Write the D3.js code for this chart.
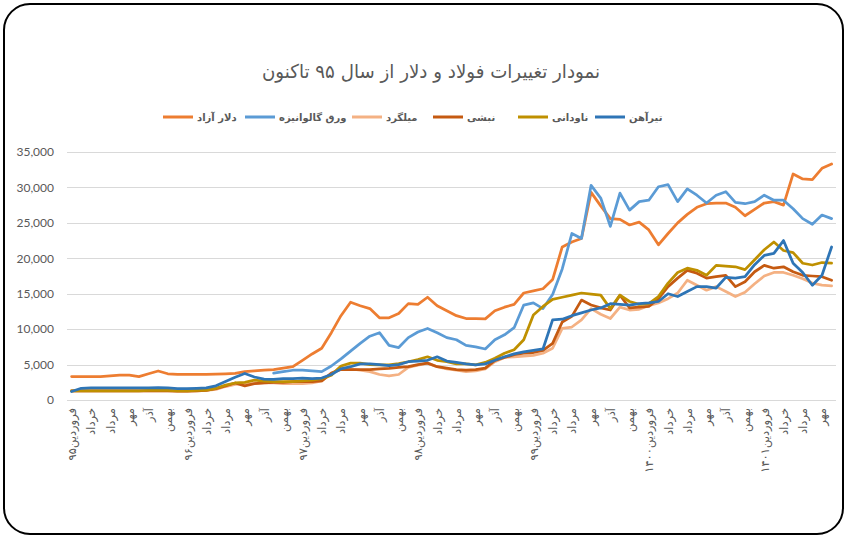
<!DOCTYPE html>
<html>
<head>
<meta charset="utf-8">
<script src="https://cdn.jsdelivr.net/npm/d3@7/dist/d3.min.js"></script>
<style>
  html, body { margin: 0; padding: 0; background: #ffffff; }
  svg { display: block; }
</style>
</head>
<body>
<svg id="chart" width="847" height="538"></svg>
<script>
// ---------------- DATA ----------------
const title = "نمودار تغییرات فولاد و دلار از سال ۹۵ تاکنون";
const monthNames = ["فروردین","اردیبهشت","خرداد","تیر","مرداد","شهریور","مهر","آبان","آذر","دی","بهمن","اسفند"];
const years = ["۹۵","۹۶","۹۷","۹۸","۹۹","۱۴۰۰","۱۴۰۱"];
const monthCount = 80; // فروردین ۹۵ تا آبان ۱۴۰۱
const categories = [];
for (let k = 0; k < monthCount; k++) {
  const m = k % 12, yr = Math.floor(k / 12);
  categories.push(m === 0 ? monthNames[m] + years[yr] : monthNames[m]);
}
const yTicks = [0, 5000, 10000, 15000, 20000, 25000, 30000, 35000];

const seriesNames = ["دلار آزاد", "ورق گالوانیزه", "میلگرد", "نبشی", "ناودانی", "تیرآهن"];

const dollar = [
  3300,3300,3300,3300,3400,3500,3500,3300,3700,4100,
  3700,3600,3600,3600,3600,3650,3700,3750,4000,4100,
  4200,4300,4500,4700,5600,6500,7300,9500,11900,13800,
  13300,12900,11600,11600,12200,13600,13500,14500,13300,12600,
  11900,11500,11500,11450,12600,13100,13500,15100,15400,15700,
  17000,21600,22300,22800,29300,27400,25600,25500,24700,25100,
  24000,21900,23500,25000,26200,27200,27700,27800,27800,27200,
  26000,26900,27800,28000,27500,31900,31200,31100,32700,33300
];
const galvanized = [
  null,null,null,null,null,null,null,null,null,null,
  null,null,null,null,null,null,null,null,null,null,
  null,3800,4000,4200,4200,4100,4000,4800,5800,6900,
  8000,9000,9500,7700,7400,8800,9600,10100,9500,8800,
  8500,7700,7500,7200,8500,9200,10200,13400,13700,12900,
  14900,18500,23500,22800,30300,28500,24500,29200,26800,28000,
  28200,30100,30400,28000,29800,28900,27800,28900,29400,27900,
  27700,28000,28900,28200,28200,27000,25600,24800,26100,25600
];
const rebar = [
  1300,1300,1300,1300,1300,1300,1300,1300,1300,1300,
  1300,1250,1250,1300,1350,1500,1900,2200,2300,2300,
  2400,2400,2300,2300,2300,2400,2700,3700,4600,4400,
  4200,4000,3600,3400,3600,4600,4900,5200,4700,4400,
  4200,4000,4100,4400,5400,6000,6100,6200,6300,6600,
  7300,10100,10300,11300,12900,12100,11500,13100,12700,12800,
  13300,13700,14300,15100,16900,16200,15500,16000,15300,14600,
  15200,16400,17500,18000,18000,17600,17100,16500,16200,16100
];
const angle = [
  1300,1300,1300,1300,1300,1300,1300,1300,1300,1300,
  1300,1250,1250,1300,1350,1600,2000,2400,2000,2300,
  2400,2500,2500,2600,2600,2600,2700,3800,4300,4300,
  4300,4300,4400,4450,4600,4700,5000,5200,4700,4500,
  4300,4200,4300,4500,5600,6000,6400,6600,6700,7000,
  8000,11000,11800,14100,13400,13000,12700,14800,13000,13100,
  13200,14300,16000,17200,18300,17900,17200,17400,17600,16000,
  16700,18100,19000,18600,18800,18100,17600,17500,17400,16900
];
const channel = [
  1300,1300,1300,1300,1300,1300,1300,1300,1350,1350,
  1350,1300,1300,1350,1400,1650,2100,2400,2500,2800,
  2650,2600,2600,2600,2700,2800,3000,3500,4800,5200,
  5200,5000,4950,4950,5150,5400,5700,6100,5600,5400,
  5100,5100,4950,5300,5900,6600,7100,8500,12000,13200,
  14200,14500,14800,15100,14950,14800,12900,14800,13900,13500,
  13600,14600,16500,18000,18600,18300,17600,19000,18900,18800,
  18400,19800,21200,22300,21100,20800,19300,19050,19400,19300
];
const beam = [
  1200,1650,1700,1700,1700,1700,1700,1700,1700,1750,
  1700,1600,1600,1650,1700,2000,2600,3200,3750,3250,
  2950,2900,3000,3000,3100,3000,3100,3600,4400,4700,
  5100,5100,5000,4850,5000,5400,5500,5600,6100,5500,
  5300,5100,4950,5100,5600,6100,6500,6800,7000,7200,
  11300,11400,11900,12300,12700,13000,13600,13500,13400,13600,
  13700,13900,15000,14600,15300,16000,16000,15800,17300,17200,
  17400,19100,20400,20700,22500,19300,18000,16200,17600,21600
];
const seriesValues = [dollar, galvanized, rebar, angle, channel, beam];
const seriesColors = ["#ED7D31", "#5B9BD5", "#F4B183", "#C55A11", "#BF9000", "#2E75B6"];

// ---------------- LAYOUT ----------------
const svg = d3.select("#chart");
const plot = { left: 67, right: 836, top: 152, bottom: 400 };

// frame
svg.append("rect")
  .attr("x", 4).attr("y", 4).attr("width", 839).attr("height", 530)
  .attr("rx", 26).attr("ry", 26)
  .attr("fill", "#ffffff").attr("stroke", "#000000").attr("stroke-width", 2);

// title
svg.append("text")
  .attr("x", 431).attr("y", 78)
  .attr("text-anchor", "middle")
  .attr("font-family", "DejaVu Sans")
  .attr("font-size", 19)
  .attr("textLength", 338)
  .attr("lengthAdjust", "spacingAndGlyphs")
  .attr("fill", "#595959")
  .text(title);

const x = d3.scalePoint()
  .domain(d3.range(categories.length))
  .range([71.6, 831.6]);
const y = d3.scaleLinear().domain([0, 35000]).range([plot.bottom, plot.top]);

// gridlines
svg.append("g")
  .selectAll("line")
  .data(yTicks)
  .join("line")
  .attr("x1", plot.left).attr("x2", plot.right)
  .attr("y1", d => Math.round(y(d)) + 0.5).attr("y2", d => Math.round(y(d)) + 0.5)
  .attr("stroke", "#D9D9D9").attr("stroke-width", 1);

// y axis
const yAxis = d3.axisLeft(y)
  .tickValues(yTicks)
  .tickSize(0)
  .tickPadding(0)
  .tickFormat(d3.format(","));
const gy = svg.append("g").attr("transform", `translate(54,0)`).call(yAxis);
gy.select(".domain").remove();
gy.selectAll("text")
  .attr("font-family", "Lato, 'Open Sans', sans-serif")
  .attr("font-size", 12)
  .attr("fill", "#595959");

// x axis
const xAxis = d3.axisBottom(x)
  .tickValues(d3.range(0, categories.length, 2))
  .tickSize(0)
  .tickFormat(i => categories[i]);
const gx = svg.append("g").attr("transform", `translate(0,${plot.bottom})`).call(xAxis);
gx.select(".domain").remove();
gx.selectAll(".tick text")
  .attr("font-family", "DejaVu Sans")
  .attr("font-size", 11.5)
  .attr("fill", "#595959")
  .attr("text-anchor", "end")
  .attr("dy", null)
  .attr("y", 0)
  .attr("transform", "translate(4,8) rotate(-90)");

// lines
const line = d3.line()
  .defined(d => d != null)
  .x((d, i) => x(i))
  .y(d => y(d));

svg.append("g")
  .selectAll("path")
  .data(seriesValues)
  .join("path")
  .attr("d", d => line(d))
  .attr("fill", "none")
  .attr("stroke", (d, i) => seriesColors[i])
  .attr("stroke-width", 2.75)
  .attr("stroke-linejoin", "round")
  .attr("stroke-linecap", "round");

// legend
const legendX = [163, 245, 352, 433, 518, 595];
const lg = svg.append("g");
seriesNames.forEach((name, i) => {
  lg.append("line")
    .attr("x1", legendX[i]).attr("x2", legendX[i] + 30)
    .attr("y1", 117).attr("y2", 117)
    .attr("stroke", seriesColors[i]).attr("stroke-width", 3);
  lg.append("text")
    .attr("x", legendX[i] + 34).attr("y", 121)
    .attr("font-family", "DejaVu Sans")
    .attr("font-weight", "bold")
    .attr("font-size", 10)
    .attr("fill", "#595959")
    .text(name);
});
</script>
</body>
</html>
